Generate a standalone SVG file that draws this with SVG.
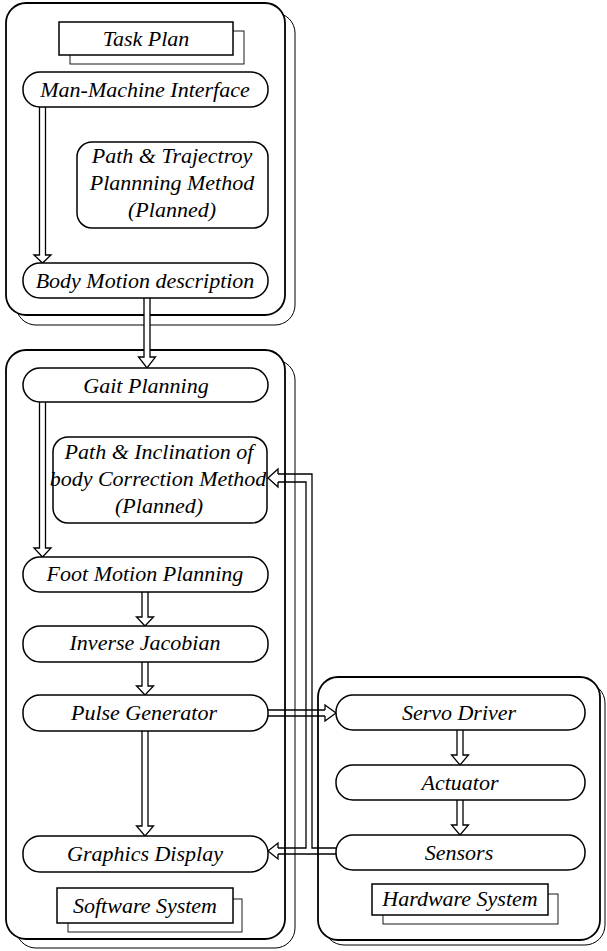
<svg xmlns="http://www.w3.org/2000/svg" width="607" height="951" viewBox="0 0 607 951">
<style>
.shadow{fill:none;stroke:#000;stroke-width:1}
.panel{fill:#fff;stroke:#000;stroke-width:1.8}
.node{fill:#fff;stroke:#000;stroke-width:1.5}
.tag{fill:#fff;stroke:#000;stroke-width:1.5}
.tagsh{fill:none;stroke:#000;stroke-width:0.9}
.pipe{fill:none;stroke:#000;stroke-width:1.3}
.arr{fill:#fff;stroke:#000;stroke-width:1.3;stroke-linejoin:miter}
.lbl{font-family:"Liberation Serif","Times New Roman",serif;font-style:italic;font-size:22px;text-anchor:middle;fill:#000}
</style>
<rect width="607" height="951" fill="#fff"/>
<g id="panel-planning">
<rect class="shadow" x="16" y="13" width="279" height="312" rx="20"/>
<rect class="panel" x="6" y="3" width="279" height="312" rx="20"/>
</g>
<g id="panel-software">
<rect class="shadow" x="16" y="360" width="279" height="588" rx="20"/>
<rect class="panel" x="6" y="350" width="279" height="589" rx="20"/>
</g>
<g id="panel-hardware">
<rect class="shadow" x="324" y="683" width="281" height="262" rx="20"/>
<rect class="panel" x="318" y="677" width="282" height="263" rx="20"/>
</g>
<g id="connectors">
<path class="arr" d="M39.5 107 V255 H34 L42.5 263 L51 255 H45.5 V107"/>
<path class="arr" d="M144 298 V357 H138.5 L147 368 L155.5 357 H150 V298"/>
<path class="arr" d="M39.5 402 V548 H34 L42.5 557 L51 548 H45.5 V402"/>
<path class="arr" d="M142 592 V617 H136.5 L145 626 L153.5 617 H148 V592"/>
<path class="arr" d="M142 662 V686 H136.5 L145 695 L153.5 686 H148 V662"/>
<path class="arr" d="M142 731 V826 H136.5 L145 836 L153.5 826 H148 V731"/>
<path class="arr" d="M457 730 V755 H451.5 L460 765 L468.5 755 H463 V730"/>
<path class="arr" d="M457 800 V825 H451.5 L460 835 L468.5 825 H463 V800"/>
<line class="pipe" x1="268" y1="710" x2="325" y2="710"/>
<line class="pipe" x1="268" y1="716" x2="325" y2="716"/>
<path class="arr" d="M325 710 V705 L336 713 L325 721 V716"/>
<path class="pipe" d="M278 854 H337"/>
<path class="pipe" d="M278 848 H306 V482 H278"/>
<path class="pipe" d="M337 848 H312 V474 H278"/>
<path class="arr" d="M278 474 V469 L268 478 L278 487 V482"/>
<path class="arr" d="M278 848 V843 L268 851 L278 859 V854"/>
</g>
<g id="task-plan">
<rect class="tagsh" x="70" y="31" width="174" height="33"/>
<rect class="tag" x="59" y="22" width="174" height="33"/>
<text class="lbl" x="146" y="46">Task Plan</text>
</g>
<g id="man-machine-interface">
<rect class="node" x="23" y="72" width="245" height="35" rx="17"/>
<text class="lbl" x="145" y="97">Man-Machine Interface</text>
</g>
<g id="path-trajectory">
<rect class="node" x="77" y="142" width="191" height="86" rx="15"/>
<text class="lbl" x="172" y="163">Path &amp; Trajectroy</text>
<text class="lbl" x="172" y="190">Plannning Method</text>
<text class="lbl" x="172" y="217">(Planned)</text>
</g>
<g id="body-motion">
<rect class="node" x="23" y="263" width="245" height="35" rx="17"/>
<text class="lbl" x="145" y="288">Body Motion description</text>
</g>
<g id="gait-planning">
<rect class="node" x="23" y="368" width="245" height="34" rx="17"/>
<text class="lbl" x="146" y="393">Gait Planning</text>
</g>
<g id="path-inclination">
<rect class="node" x="53" y="437" width="214" height="86" rx="15"/>
<text class="lbl" x="159" y="459">Path &amp; Inclination of</text>
<text class="lbl" x="158" y="486">body Correction Method</text>
<text class="lbl" x="159" y="513">(Planned)</text>
</g>
<g id="foot-motion">
<rect class="node" x="23" y="557" width="245" height="35" rx="17"/>
<text class="lbl" x="145" y="581">Foot Motion Planning</text>
</g>
<g id="inverse-jacobian">
<rect class="node" x="23" y="626" width="245" height="36" rx="17"/>
<text class="lbl" x="145" y="650">Inverse Jacobian</text>
</g>
<g id="pulse-generator">
<rect class="node" x="23" y="695" width="245" height="36" rx="17"/>
<text class="lbl" x="144" y="720">Pulse Generator</text>
</g>
<g id="graphics-display">
<rect class="node" x="23" y="836" width="245" height="36" rx="17"/>
<text class="lbl" x="145" y="861">Graphics Display</text>
</g>
<g id="software-system">
<rect class="tagsh" x="68" y="899" width="174" height="33"/>
<rect class="tag" x="57" y="888" width="176" height="35"/>
<text class="lbl" x="145" y="913">Software System</text>
</g>
<g id="servo-driver">
<rect class="node" x="336" y="695" width="249" height="35" rx="17"/>
<text class="lbl" x="459" y="720">Servo Driver</text>
</g>
<g id="actuator">
<rect class="node" x="336" y="765" width="249" height="35" rx="17"/>
<text class="lbl" x="460" y="790">Actuator</text>
</g>
<g id="sensors">
<rect class="node" x="336" y="835" width="249" height="35" rx="17"/>
<text class="lbl" x="459" y="860">Sensors</text>
</g>
<g id="hardware-system">
<rect class="tagsh" x="383" y="894" width="175" height="30"/>
<rect class="tag" x="372" y="884" width="176" height="31"/>
<text class="lbl" x="460" y="906">Hardware System</text>
</g>
</svg>
